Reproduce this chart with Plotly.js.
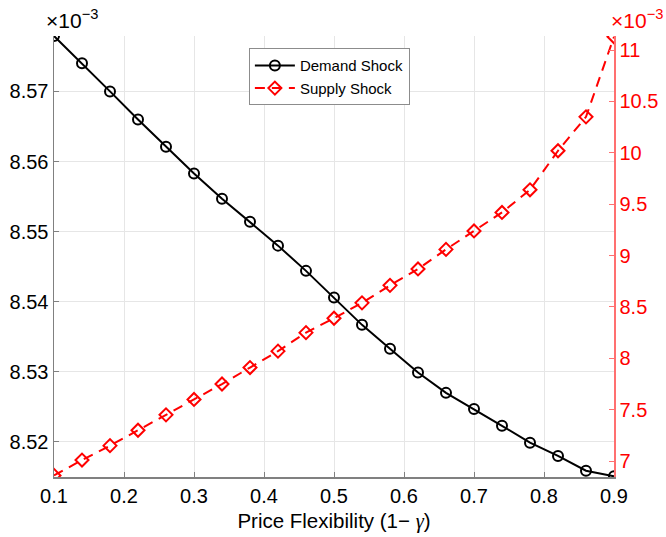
<!DOCTYPE html>
<html>
<head>
<meta charset="utf-8">
<script src="https://cdn.plot.ly/plotly-3.0.1.min.js"></script>
<style>html,body{margin:0;padding:0;background:#fff;}#chart{width:666px;height:537px;}</style>
</head>
<body>
<div id="chart"></div>
<script>
// Price flexibility (1 - gamma)
var flexibility = [0.10, 0.14, 0.18, 0.22, 0.26, 0.30, 0.34, 0.38, 0.42, 0.46, 0.50,
                   0.54, 0.58, 0.62, 0.66, 0.70, 0.74, 0.78, 0.82, 0.86, 0.90];
// Values in units of 10^-3
var demandShock = [8.5779, 8.5740, 8.5700, 8.5660, 8.5621, 8.5583, 8.5547, 8.5514, 8.5480, 8.5444, 8.5406,
                   8.5367, 8.5333, 8.5299, 8.5270, 8.5247, 8.5223, 8.5199, 8.5180, 8.5159, 8.5151];
var supplyShock = [6.86, 7.01, 7.15, 7.30, 7.45, 7.60, 7.75, 7.91, 8.07, 8.25, 8.39,
                   8.54, 8.71, 8.87, 9.06, 9.24, 9.42, 9.64, 10.02, 10.35, 11.13];
var seriesNames = ["Demand Shock", "Supply Shock"];
var xTicks = [0.1, 0.2, 0.3, 0.4, 0.5, 0.6, 0.7, 0.8, 0.9];
var leftTicks = [8.52, 8.53, 8.54, 8.55, 8.56, 8.57];
var rightTicks = [7, 7.5, 8, 8.5, 9, 9.5, 10, 10.5, 11];

var FONT = "Liberation Sans, Arial, Helvetica, sans-serif";

var traces = [
  {
    x: flexibility, y: demandShock, name: seriesNames[0], yaxis: "y",
    type: "scatter", mode: "lines+markers",
    line: {color: "#000000", width: 2},
    marker: {symbol: "circle-open", size: 10, color: "#000000", line: {width: 2}}
  },
  {
    x: flexibility, y: supplyShock, name: seriesNames[1], yaxis: "y2",
    type: "scatter", mode: "lines+markers",
    line: {color: "#ff0000", width: 2, dash: "10px,7px"},
    marker: {symbol: "diamond-open", size: 10, color: "#ff0000", line: {width: 2}}
  }
];

var layout = {
  width: 666, height: 537,
  margin: {l: 54, r: 52, t: 36, b: 60, pad: 0},
  paper_bgcolor: "#ffffff", plot_bgcolor: "#ffffff",
  font: {family: FONT, size: 20, color: "#000000"},
  showlegend: true,
  legend: {
    x: 0.348, y: 0.972, xanchor: "left", yanchor: "top",
    bgcolor: "#ffffff", bordercolor: "#8c8c8c", borderwidth: 1,
    font: {family: FONT, size: 15, color: "#000000"},
    tracegroupgap: 0, itemwidth: 40
  },
  xaxis: {
    range: [0.1, 0.9], tickvals: xTicks, ticktext: xTicks.map(function(v){return v.toFixed(1);}),
    showgrid: true, gridcolor: "#e6e6e6", gridwidth: 1,
    zeroline: false, showline: true, linecolor: "#808080", linewidth: 1.5,
    ticks: "inside", ticklen: 5, tickcolor: "#808080",
    tickfont: {family: FONT, size: 20, color: "#000000"},
    title: {text: "Price Flexibility (1\u2212 <span style=\"font-family:'Liberation Serif',serif;font-style:italic\">\u03b3</span>)",
            font: {family: FONT, size: 20.5, color: "#000000"}, standoff: 8},
    mirror: false
  },
  yaxis: {
    range: [8.515, 8.5779], tickvals: leftTicks, ticktext: leftTicks.map(function(v){return v.toFixed(2);}),
    showgrid: true, gridcolor: "#e6e6e6", gridwidth: 1,
    zeroline: false, showline: true, linecolor: "#808080", linewidth: 1.5,
    ticks: "inside", ticklen: 5, tickcolor: "#808080",
    tickfont: {family: FONT, size: 20, color: "#000000"}
  },
  yaxis2: {
    overlaying: "y", side: "right",
    range: [6.845, 11.137], tickvals: rightTicks, ticktext: rightTicks.map(function(v){return String(v);}),
    showgrid: false, zeroline: false, showline: true, linecolor: "#ff7070", linewidth: 1.5,
    ticks: "inside", ticklen: 5, tickcolor: "#ff7070",
    tickfont: {family: FONT, size: 20, color: "#ff0000"}
  },
  annotations: [
    {xref: "paper", yref: "paper", x: 0, y: 1, xshift: -10, yshift: 17, xanchor: "left", yanchor: "middle",
     text: "\u00d710<sup>\u22123</sup>", showarrow: false, font: {family: FONT, size: 21, color: "#000000"}},
    {xref: "paper", yref: "paper", x: 1, y: 1, xshift: -5, yshift: 17, xanchor: "left", yanchor: "middle",
     text: "\u00d710<sup>\u22123</sup>", showarrow: false, font: {family: FONT, size: 21, color: "#ff0000"}}
  ]
};

Plotly.newPlot("chart", traces, layout, {displayModeBar: false, staticPlot: true});
</script>
</body>
</html>
